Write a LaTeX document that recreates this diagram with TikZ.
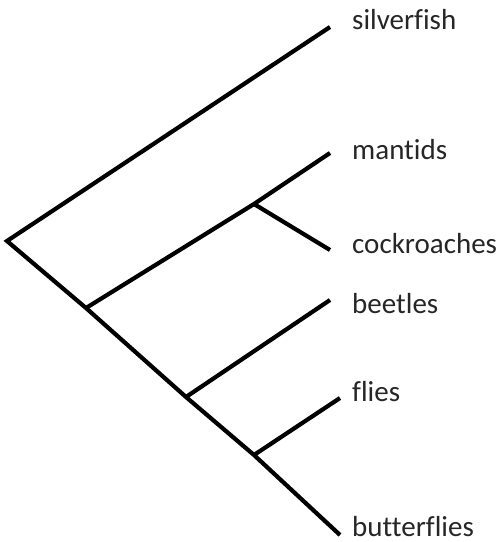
\documentclass[tikz,border=0pt]{standalone}
\usepackage{fontspec}
\setmainfont{Carlito}[Ligatures={NoCommon,NoRare}]
\begin{document}
\begin{tikzpicture}[x=1pt,y=-1pt,
  branch/.style={line width=4.2pt,black,line join=miter},
  taxon/.style={anchor=base west,inner sep=0pt,font=\fontsize{29}{32}\selectfont,text=black!85}]
\useasboundingbox (0,0) rectangle (503,542);
% coordinates
\coordinate (root) at (7,241);
\coordinate (n1) at (86,308);
\coordinate (n2) at (254,204);
\coordinate (n3) at (186,397);
\coordinate (n4) at (254,455);
\coordinate (eSil) at (330,27);
\coordinate (eMan) at (330,153);
\coordinate (eCoc) at (330,250);
\coordinate (eBee) at (330,300);
\coordinate (eFli) at (340,398);
\coordinate (eBut) at (340,535);
% labels
\node[taxon] (tSil) at (352,29) {silverfish};
\node[taxon] (tMan) at (352,159) {mantids};
\node[taxon] (tCoc) at (352,253) {cockroaches};
\node[taxon] (tBee) at (352,313) {beetles};
\node[taxon] (tFli) at (352,401) {flies};
\node[taxon] (tBut) at (352,536) {butterflies};
% tree
\draw[branch] (eSil) -- (root) -- (n1) -- (n3) -- (n4) -- (eBut);
\draw[branch] (n1) -- (n2) -- (eMan);
\draw[branch] (n2) -- (eCoc);
\draw[branch] (n3) -- (eBee);
\draw[branch] (n4) -- (eFli);
\end{tikzpicture}
\end{document}
